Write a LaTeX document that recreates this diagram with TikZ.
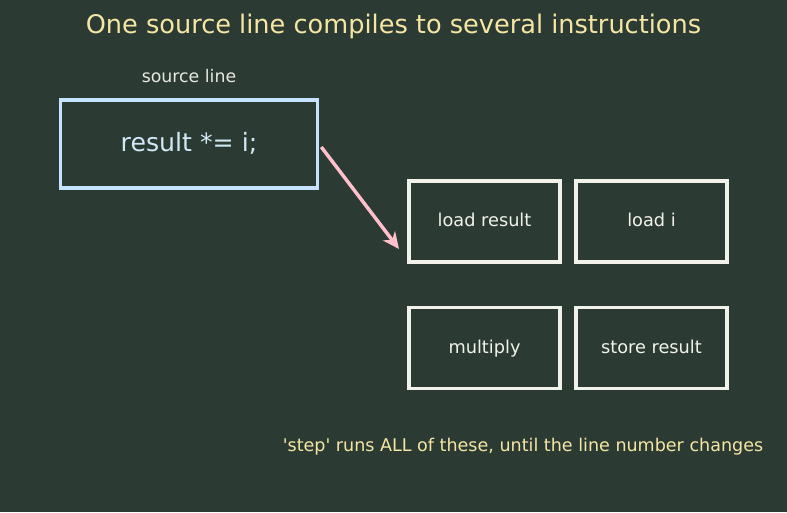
\documentclass[tikz,border=0pt]{standalone}
\usepackage{fontspec}
\setmainfont{DejaVu Sans}[Ligatures=TeXOff]
\usetikzlibrary{arrows.meta}
\definecolor{bg}{HTML}{2B3B34}
\definecolor{titlec}{HTML}{F5E6A3}
\definecolor{srcblue}{HTML}{C6E2FF}
\definecolor{srctext}{HTML}{D2E8F5}
\definecolor{boxc}{HTML}{F2F2EA}
\definecolor{lbl}{HTML}{E8E8E0}
\definecolor{arrowc}{HTML}{FFC0CB}
\begin{document}
\begin{tikzpicture}[x=0.75pt,y=-0.75pt,
  instr/.style={draw=boxc,line width=2.7pt,text=boxc,font=\fontsize{13.3}{15}\selectfont,inner sep=0pt,
    text height=10pt,text depth=1.8pt,minimum width=151*0.75pt,minimum height=81*0.75pt},
  src/.style={draw=srcblue,line width=2.7pt,text=srctext,font=\fontsize{18.9}{22}\selectfont,inner sep=0pt,
    text height=14pt,text depth=2.4pt}]
\fill[bg] (0,0) rectangle (787,512);
\useasboundingbox (0,0) rectangle (787,512);
\node[text=titlec,font=\fontsize{19.2}{23}\selectfont] (title) at (393.5,26.5) {One source line compiles to several instructions};
\node[text=lbl,font=\fontsize{13}{15}\selectfont] (srclbl) at (189,76.5) {source line};
\node[src,minimum width=257*0.75pt,minimum height=88*0.75pt] (srcbox) at (189,144) {result *= i;};
\node[instr] (b1) at (484.5,221.5) {load result};
\node[instr] (b2) at (651.5,221.5) {load i};
\node[instr] (b3) at (484.5,348) {multiply};
\node[instr] (b4) at (651.5,348) {store result};
\coordinate (tip) at (399,249);
\draw[arrowc,line width=2.6pt,-{Stealth[length=12.5pt,width=11.5pt]}] (srcbox.east |- 0,147) ++(2,0) -- (tip);
\node[text=titlec,font=\fontsize{13.15}{15}\selectfont] (note) at (523,446.5) {'step' runs ALL of these, until the line number changes};
\end{tikzpicture}
\end{document}
